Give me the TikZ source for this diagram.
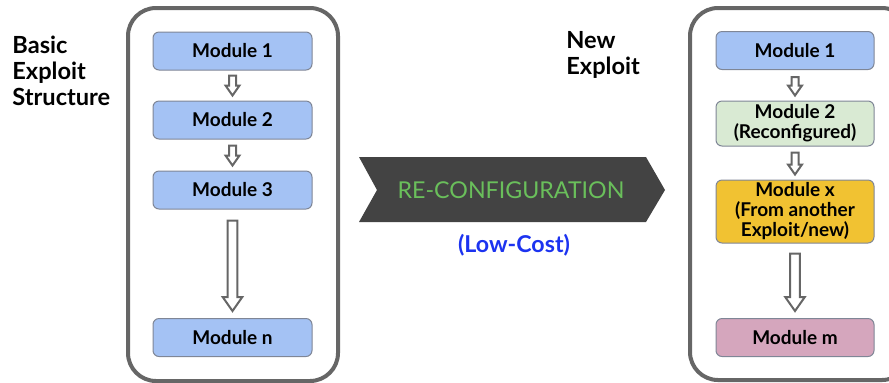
\documentclass[tikz,border=0pt]{standalone}
\usepackage{fontspec}
\setmainfont{Lato}
\usetikzlibrary{calc}

\definecolor{modblue}{HTML}{A4C2F4}
\definecolor{modgreen}{HTML}{D9EAD3}
\definecolor{modgold}{HTML}{F1C232}
\definecolor{modpink}{HTML}{D5A6BD}
\definecolor{framegray}{HTML}{666666}
\definecolor{boxline}{HTML}{7F8696}
\definecolor{bannergray}{HTML}{434343}
\definecolor{bannergreen}{HTML}{6ABF5B}
\definecolor{costblue}{HTML}{1C33F0}

% hollow block arrow from one module down to the next
% #1 = size factor, #4 = gap below the upper module
\newcommand{\flowarrow}[4][1]{%
  \draw[hollow] ($(#2.south)+(-3.5*#1,#4)$) -- ($(#3.north)+(-3.5*#1,-5*#1-10*#1)$)
    -- ++(-3.5*#1,0) -- ($(#3.north)+(0,-5*#1)$) -- ($(#3.north)+(7*#1,-5*#1-10*#1)$)
    -- ++(-3.5*#1,0) -- ($(#2.south)+(3.5*#1,#4)$) -- cycle;}

\begin{document}
\begin{tikzpicture}[x=0.5pt,y=-0.5pt,
    module/.style={draw=boxline, line width=0.5pt, rounded corners=3pt,
      minimum width=79.5pt, minimum height=19pt, inner sep=0pt, align=center,
      font=\bfseries\fontsize{9.5}{10}\selectfont},
    frame/.style={draw=framegray, line width=2pt, rounded corners=14pt},
    hollow/.style={draw=framegray, line width=1pt, fill=white},
    title/.style={align=left, anchor=north west, inner sep=0pt,
      font=\bfseries\fontsize{11.8}{13}\selectfont}]
    \clip (0,0) rectangle (889,382);

    % Titles
    \node[title] (basic) at (12,36) {Basic\\Exploit\\Structure};
    \node[title] (new) at (566,31) {New\\Exploit};

    % Basic exploit
    \draw[frame] (128,8) rectangle (338,381);
    \node[module, fill=modblue] (b1) at (232.5,51) {Module 1};
    \node[module, fill=modblue] (b2) at (232.5,120) {Module 2};
    \node[module, fill=modblue] (b3) at (232.5,190) {Module 3};
    \node[module, fill=modblue] (bn) at (232.5,337.5) {Module n};
    \flowarrow{b1}{b2}{5}
    \flowarrow{b2}{b3}{6}
    \flowarrow[1.4]{b3}{bn}{11}

    % Re-configuration banner
    \fill[bannergray] (359,157) -- (646,157) -- (665,190) -- (646,222)
      -- (359,222) -- (377,190) -- cycle;
    \node[text=bannergreen, font=\fontsize{11.6}{14}\selectfont] (reconf) at (511,190) {RE-CONFIGURATION};
    \node[text=costblue, font=\bfseries\fontsize{11.6}{13}\selectfont] (cost) at (514,245) {(Low-Cost)};

    % New exploit
    \draw[frame] (690,8) rectangle (910,380);
    \node[module, fill=modblue, minimum width=79pt] (n1) at (795,50.5) {Module 1};
    \node[module, fill=modgreen, minimum width=79pt, minimum height=22.5pt] (n2) at (795,123.5) {Module 2\\(Reconfigured)};
    \node[module, fill=modgold, minimum width=79pt, minimum height=31.5pt] (nx) at (795,211.5) {Module x\\(From another\\Exploit/new)};
    \node[module, fill=modpink, minimum width=79pt] (nm) at (795,337.5) {Module m};
    \flowarrow{n1}{n2}{7}
    \flowarrow{n2}{nx}{6}
    \flowarrow[1.4]{nx}{nm}{10}
\end{tikzpicture}
\end{document}
